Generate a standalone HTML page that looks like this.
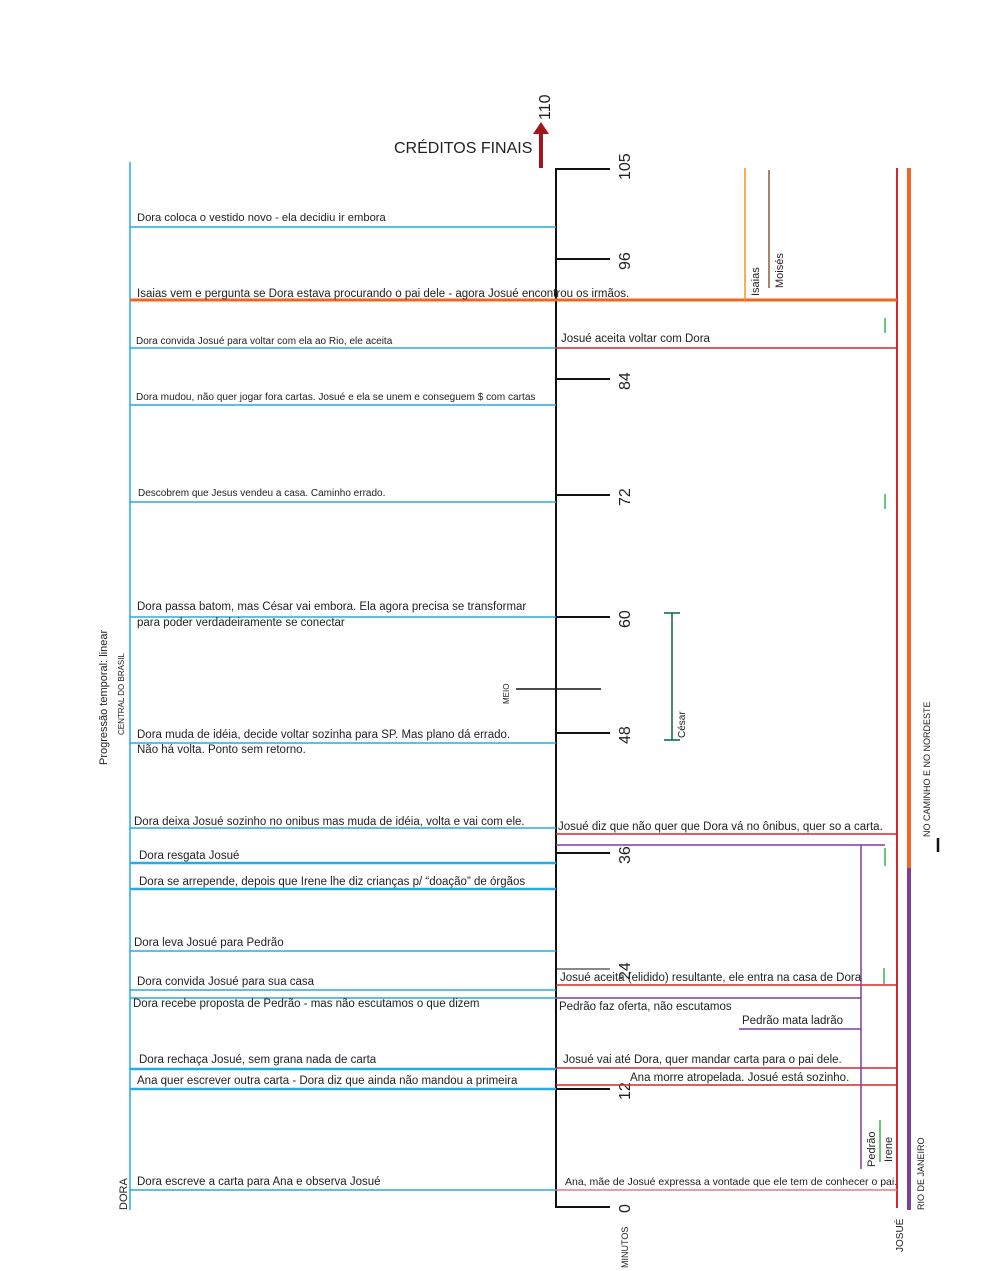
<!DOCTYPE html>
<html><head><meta charset="utf-8"><style>
html,body{margin:0;padding:0;background:#fff}
svg{display:block}
text{font-family:"Liberation Sans",sans-serif;fill:#222}
.s{font-size:10.5px}
.m{font-size:11.5px}
</style></head><body>
<svg width="992" height="1271" viewBox="0 0 992 1271" xmlns="http://www.w3.org/2000/svg">
<line x1="130" y1="162" x2="130" y2="1210" stroke="#29abe2" stroke-width="1.5"/>
<line x1="556" y1="168" x2="556" y2="1208" stroke="#111" stroke-width="2"/>
<line x1="897" y1="168" x2="897" y2="1208" stroke="#d9262e" stroke-width="2"/>
<line x1="909" y1="168" x2="909" y2="868" stroke="#f26522" stroke-width="4"/>
<line x1="909" y1="868" x2="909" y2="1210" stroke="#7b3fa0" stroke-width="4"/>
<g stroke="#111" stroke-width="2">
<line x1="556" y1="169" x2="610" y2="169"/>
<line x1="556" y1="259" x2="610" y2="259"/>
<line x1="556" y1="379" x2="610" y2="379"/>
<line x1="556" y1="495" x2="610" y2="495"/>
<line x1="556" y1="617" x2="610" y2="617"/>
<line x1="556" y1="733" x2="610" y2="733"/>
<line x1="556" y1="853" x2="610" y2="853"/>
<line x1="556" y1="969" x2="610" y2="969" stroke-width="1"/>
<line x1="556" y1="1089" x2="610" y2="1089"/>
<line x1="556" y1="1207" x2="610" y2="1207"/>
<line x1="516" y1="689" x2="601" y2="689" stroke-width="1.5"/>
<line x1="938" y1="838" x2="938" y2="852" stroke-width="2.5"/>
</g>
<g font-size="16">
<text transform="translate(630,180) rotate(-90)">105</text>
<text transform="translate(630,270) rotate(-90)">96</text>
<text transform="translate(630,390) rotate(-90)">84</text>
<text transform="translate(630,506) rotate(-90)">72</text>
<text transform="translate(630,628) rotate(-90)">60</text>
<text transform="translate(630,744) rotate(-90)">48</text>
<text transform="translate(630,864) rotate(-90)">36</text>
<text transform="translate(630,980) rotate(-90)">24</text>
<text transform="translate(630,1100) rotate(-90)">12</text>
<text transform="translate(630,1213) rotate(-90)">0</text>
<text transform="translate(550,120) rotate(-90)">110</text>
</g>
<text x="394" y="153" font-size="16">CRÉDITOS FINAIS</text>
<line x1="541" y1="168" x2="541" y2="132" stroke="#a0161c" stroke-width="4"/>
<polygon points="533,134 549,134 541,122" fill="#a0161c"/>
<g stroke="#29abe2" stroke-width="1.5">
<line x1="130" y1="227" x2="556" y2="227"/>
<line x1="130" y1="348" x2="556" y2="348"/>
<line x1="130" y1="405" x2="556" y2="405"/>
<line x1="130" y1="502" x2="556" y2="502"/>
<line x1="130" y1="617" x2="556" y2="617"/>
<line x1="130" y1="743" x2="556" y2="743"/>
<line x1="130" y1="828" x2="556" y2="828"/>
<line x1="130" y1="863" x2="556" y2="863" stroke-width="2.5"/>
<line x1="130" y1="889" x2="556" y2="889" stroke-width="2.5"/>
<line x1="130" y1="951" x2="556" y2="951"/>
<line x1="130" y1="990" x2="556" y2="990"/>
<line x1="130" y1="998" x2="556" y2="998"/>
<line x1="130" y1="1069" x2="556" y2="1069" stroke-width="2.5"/>
<line x1="130" y1="1089" x2="556" y2="1089" stroke-width="2.5"/>
<line x1="130" y1="1190" x2="556" y2="1190"/>
</g>
<line x1="130" y1="300" x2="897" y2="300" stroke="#f26522" stroke-width="3"/>
<g stroke="#d9262e" stroke-width="1.5">
<line x1="556" y1="348" x2="897" y2="348"/>
<line x1="556" y1="834" x2="897" y2="834"/>
<line x1="556" y1="985" x2="897" y2="985"/>
<line x1="556" y1="1068" x2="897" y2="1068"/>
<line x1="556" y1="1085" x2="897" y2="1085"/>
<line x1="556" y1="1190" x2="897" y2="1190" stroke="#e87a8a"/>
</g>
<g stroke="#7b3fa0" stroke-width="1.5">
<line x1="556" y1="845" x2="885" y2="845"/>
<line x1="861" y1="845" x2="861" y2="1169"/>
<line x1="556" y1="998" x2="861" y2="998"/>
<line x1="739" y1="1029" x2="861" y2="1029"/>
</g>
<g stroke="#39b54a" stroke-width="1.5">
<line x1="885" y1="318" x2="885" y2="333"/>
<line x1="885" y1="494" x2="885" y2="509"/>
<line x1="885" y1="848" x2="885" y2="866"/>
<line x1="884" y1="968" x2="884" y2="984"/>
<line x1="880" y1="1120" x2="880" y2="1162"/>
</g>
<line x1="745" y1="168" x2="745" y2="300" stroke="#f7931e" stroke-width="1.5"/>
<line x1="769" y1="170" x2="769" y2="288" stroke="#8b5a3c" stroke-width="1.5"/>
<g stroke="#006837" stroke-width="1.5">
<line x1="672" y1="613" x2="672" y2="740"/>
<line x1="664" y1="613" x2="680" y2="613"/>
<line x1="664" y1="740" x2="680" y2="740"/>
</g>
<g class="s">
<text x="137" y="221" font-size="11.2">Dora coloca o vestido novo - ela decidiu ir embora</text>
<text x="137" y="297" class="m">Isaias vem e pergunta se Dora estava procurando o pai dele - agora Josué encontrou os irmãos.</text>
<text x="136" y="344" font-size="10">Dora convida Josué para voltar com ela ao Rio, ele aceita</text>
<text x="136" y="400" font-size="10.1">Dora mudou, não quer jogar fora cartas. Josué e ela se unem e conseguem $ com cartas</text>
<text x="138" y="496" font-size="10">Descobrem que Jesus vendeu a casa. Caminho errado.</text>
<text x="137" y="610" class="m">Dora passa batom, mas César vai embora. Ela agora  precisa se transformar</text>
<text x="137" y="626" class="m">para poder verdadeiramente se conectar</text>
<text x="137" y="738" class="m">Dora muda de idéia, decide voltar sozinha para SP. Mas plano dá errado.</text>
<text x="137" y="753" class="m">Não há volta. Ponto sem retorno.</text>
<text x="134" y="825" class="m">Dora deixa Josué sozinho no onibus mas muda de idéia, volta e vai com ele.</text>
<text x="139" y="859" class="m">Dora resgata Josué</text>
<text x="139" y="885" class="m">Dora se arrepende, depois que Irene lhe diz  crianças p/ “doação” de órgãos</text>
<text x="134" y="946" class="m">Dora leva Josué para Pedrão</text>
<text x="137" y="985" class="m">Dora convida Josué para sua casa</text>
<text x="133" y="1007" class="m">Dora recebe proposta de Pedrão - mas não escutamos o que dizem</text>
<text x="139" y="1063" class="m">Dora rechaça Josué, sem grana nada de carta</text>
<text x="137" y="1084" class="m">Ana quer escrever outra carta - Dora diz que ainda não mandou a primeira</text>
<text x="137" y="1185" class="m">Dora escreve a carta para Ana e observa Josué</text>
</g>
<g class="m">
<text x="561" y="342">Josué aceita voltar com Dora</text>
<text x="558" y="830">Josué diz que não quer que Dora vá no ônibus, quer so a carta.</text>
<text x="560" y="981">Josué aceita (elidido) resultante, ele entra na casa de Dora</text>
<text x="559" y="1010">Pedrão faz oferta, não escutamos</text>
<text x="742" y="1024">Pedrão mata ladrão</text>
<text x="563" y="1063">Josué vai até Dora, quer mandar carta para o pai dele.</text>
<text x="630" y="1081">Ana morre atropelada. Josué está sozinho.</text>
<text x="565" y="1185" font-size="10.5">Ana, mãe de Josué expressa a vontade que  ele tem de conhecer o pai.</text>
</g>
<g font-size="11">
<text transform="translate(759,296) rotate(-90)">Isaias</text>
<text transform="translate(783,288) rotate(-90)">Moisés</text>
<text transform="translate(685,738) rotate(-90)" font-size="10">César</text>
<text transform="translate(875,1167) rotate(-90)">Pedrão</text>
<text transform="translate(892,1162) rotate(-90)">Irene</text>
<text transform="translate(509,704) rotate(-90)" font-size="8">MEIO</text>
<text transform="translate(107,765) rotate(-90)" font-size="11">Progressão temporal: linear</text>
<text transform="translate(124,735) rotate(-90)" font-size="8">CENTRAL DO BRASIL</text>
<text transform="translate(127,1210) rotate(-90)" font-size="11">DORA</text>
<text transform="translate(628,1268) rotate(-90)" font-size="9">MINUTOS</text>
<text transform="translate(903,1252) rotate(-90)" font-size="10">JOSUÉ</text>
<text transform="translate(924,1210) rotate(-90)" font-size="9">RIO DE JANEIRO</text>
<text transform="translate(930,837) rotate(-90)" font-size="9">NO CAMINHO E NO NORDESTE</text>
</g>
</svg>
</body></html>
